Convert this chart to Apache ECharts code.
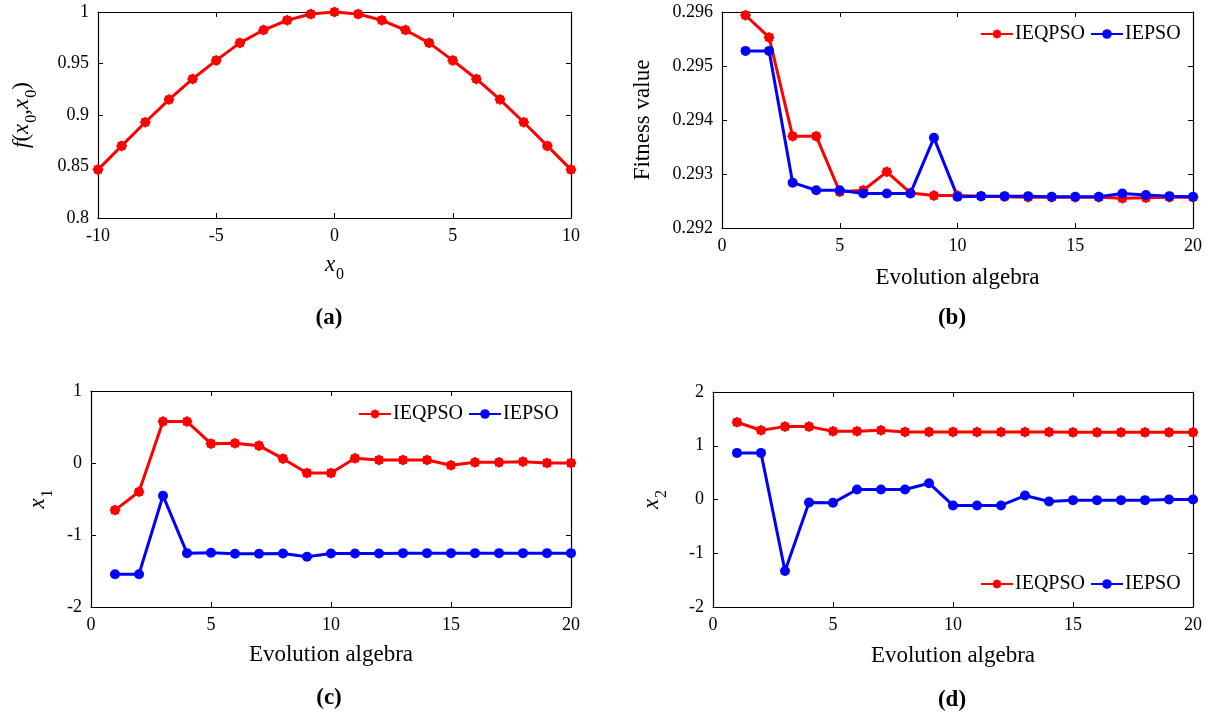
<!DOCTYPE html>
<html>
<head>
<meta charset="utf-8">
<script src="https://cdn.jsdelivr.net/npm/echarts@6/dist/echarts.min.js"></script>
<style>html,body{margin:0;padding:0;background:#fff;}#c{width:1213px;height:717px;}</style>
</head>
<body>
<div id="c"></div>
<script>
// ---- data ----
const x0Values = [-10,-9,-8,-7,-6,-5,-4,-3,-2,-1,0,1,2,3,4,5,6,7,8,9,10];
const fValues = [0.847,0.870,0.893,0.915,0.935,0.953,0.970,0.9825,0.992,0.998,1.0,0.998,0.992,0.9825,0.970,0.953,0.935,0.915,0.893,0.870,0.847];
const generations = [1,2,3,4,5,6,7,8,9,10,11,12,13,14,15,16,17,18,19,20];
const fitnessIEQPSO = [0.29594,0.29553,0.29370,0.29370,0.29267,0.29270,0.29304,0.29265,0.29260,0.29260,0.29259,0.29258,0.29257,0.29257,0.29257,0.29257,0.29255,0.29256,0.29257,0.29257];
const fitnessIEPSO = [0.29528,0.29528,0.29284,0.29270,0.29270,0.29264,0.29264,0.29264,0.29367,0.29258,0.29259,0.29259,0.29259,0.29258,0.29258,0.29258,0.29264,0.29261,0.29259,0.29258];
const x1IEQPSO = [-0.654,-0.40,0.576,0.576,0.269,0.274,0.241,0.06,-0.139,-0.139,0.065,0.042,0.042,0.042,-0.032,0.009,0.009,0.019,0,0];
const x1IEPSO = [-1.544,-1.544,-0.454,-1.252,-1.247,-1.261,-1.261,-1.256,-1.303,-1.256,-1.256,-1.256,-1.252,-1.252,-1.252,-1.252,-1.252,-1.252,-1.252,-1.252];
const x2IEQPSO = [1.437,1.288,1.356,1.356,1.269,1.269,1.288,1.257,1.257,1.257,1.255,1.255,1.255,1.255,1.25,1.25,1.25,1.25,1.25,1.25];
const x2IEPSO = [0.867,0.867,-1.331,-0.056,-0.062,0.186,0.186,0.186,0.303,-0.111,-0.111,-0.111,0.074,-0.037,-0.012,-0.012,-0.012,-0.012,0,0];
const seriesNames = ['IEQPSO','IEPSO'];
const panelLabels = ['(a)','(b)','(c)','(d)'];

// ---- styles ----
const FONT = 'Liberation Serif';
const RED = '#ff0000', BLUE = '#0000ff';
const STAR = 'path://M20 10 L17.85 13.25 L17.07 17.07 L13.25 17.85 L10 20 L6.75 17.85 L2.93 17.07 L2.15 13.25 L0 10 L2.15 6.75 L2.93 2.93 L6.75 2.15 L10 0 L13.25 2.15 L17.07 2.93 L17.85 6.75 Z';
const richSub = {
  i: {fontFamily: FONT, fontStyle: 'italic', fontSize: 23, lineHeight: 23, padding: [0,0,10,0], color: '#000'},
  n: {fontFamily: FONT, fontSize: 23, lineHeight: 23, padding: [0,0,10,0], color: '#000'},
  s: {fontFamily: FONT, fontSize: 16, lineHeight: 16, padding: [10,0,0,1], color: '#000'}
};
const axLine = {show: true, onZero: false, lineStyle: {color: '#000', width: 1.2}};
const tickIn = {show: true, inside: true, length: 5, lineStyle: {color: '#000', width: 1}};
const lbl = {color: '#000', fontFamily: FONT, fontSize: 18};

function zip(xs, ys) { return xs.map((x, i) => [x, ys[i]]); }

const grids = [
  {left: 98, top: 12, width: 473, height: 206},
  {left: 722, top: 12, width: 471, height: 216},
  {left: 91, top: 391, width: 480, height: 216},
  {left: 713, top: 392, width: 480, height: 215}
];

const xRanges = [[-10,10,5],[0,20,5],[0,20,5],[0,20,5]];
const yRanges = [[0.8,1,0.05],[0.292,0.296,0.001],[-2,1,1],[-2,2,1]];
const xNames = ['{i|x}{s|0}','Evolution algebra','Evolution algebra','Evolution algebra'];
const xNameGaps = [40, 38, 36, 37];
const yNames = ['{i|f}{n|(}{i|x}{s|0}{n|,}{i|x}{s|0}{n|)}','Fitness value','{i|x}{s|1}','{i|x}{s|2}'];
const yNameGaps = [60, 68, 37, 45];

const xAxis = [], yAxis = [];
grids.forEach((g, k) => {
  const [xmin, xmax, xi] = xRanges[k];
  const [ymin, ymax, yi] = yRanges[k];
  xAxis.push({
    type: 'value', gridIndex: k, min: xmin, max: xmax, interval: xi, position: 'bottom',
    axisLine: axLine, axisTick: tickIn, splitLine: {show: false},
    axisLabel: Object.assign({margin: 9}, lbl),
    name: xNames[k], nameLocation: 'middle', nameGap: xNameGaps[k],
    nameTextStyle: {color: '#000', fontFamily: FONT, fontSize: 23, rich: richSub}
  });
  xAxis.push({
    type: 'value', gridIndex: k, min: xmin, max: xmax, interval: xi, position: 'top',
    axisLine: axLine, axisTick: tickIn, splitLine: {show: false}, axisLabel: {show: false}
  });
  yAxis.push({
    type: 'value', gridIndex: k, min: ymin, max: ymax, interval: yi, position: 'left',
    axisLine: axLine, axisTick: tickIn, splitLine: {show: false},
    axisLabel: Object.assign({margin: 9, formatter: k === 1 ? (v => v.toFixed(3)) : (v => String(+v.toFixed(3)))}, lbl),
    name: yNames[k], nameLocation: 'middle', nameGap: yNameGaps[k], nameRotate: 90,
    nameTextStyle: {color: '#000', fontFamily: FONT, fontSize: 23, rich: richSub}
  });
  yAxis.push({
    type: 'value', gridIndex: k, min: ymin, max: ymax, interval: yi, position: 'right',
    axisLine: axLine, axisTick: tickIn, splitLine: {show: false}, axisLabel: {show: false}
  });
});

function lineSeries(name, color, k, data) {
  const red = color === RED;
  return {
    name: name, type: 'line', xAxisIndex: 2 * k, yAxisIndex: 2 * k, data: data,
    symbol: red ? STAR : 'circle', symbolSize: red ? 11 : 10, showSymbol: true,
    lineStyle: {color: color, width: 3}, itemStyle: {color: color},
    emphasis: {disabled: true}, animation: false
  };
}

const series = [
  lineSeries('f', RED, 0, zip(x0Values, fValues)),
  lineSeries(seriesNames[0], RED, 1, zip(generations, fitnessIEQPSO)),
  lineSeries(seriesNames[1], BLUE, 1, zip(generations, fitnessIEPSO)),
  lineSeries(seriesNames[0], RED, 2, zip(generations, x1IEQPSO)),
  lineSeries(seriesNames[1], BLUE, 2, zip(generations, x1IEPSO)),
  lineSeries(seriesNames[0], RED, 3, zip(generations, x2IEQPSO)),
  lineSeries(seriesNames[1], BLUE, 3, zip(generations, x2IEPSO))
];

function legendAt(left, top) {
  return {
    data: seriesNames, left: left, top: top, orient: 'horizontal', padding: 0,
    itemWidth: 32, itemHeight: 12, itemGap: 5, selectedMode: false,
    textStyle: {color: '#000', fontFamily: FONT, fontSize: 20, padding: [0,0,0,-3]}
  };
}

const labelPos = [[329,318],[952,318],[329,698],[952,700]];
const graphic = panelLabels.map((t, k) => ({
  type: 'text', x: labelPos[k][0], y: labelPos[k][1],
  style: {text: t, font: 'bold 23px "' + FONT + '"', fill: '#000', align: 'center', verticalAlign: 'middle'}
}));

const chart = echarts.init(document.getElementById('c'), null, {renderer: 'canvas'});
chart.setOption({
  backgroundColor: '#fff',
  animation: false,
  grid: grids,
  xAxis: xAxis,
  yAxis: yAxis,
  legend: [legendAt(980, 24), legendAt(358, 404), legendAt(980, 574)],
  series: series,
  graphic: graphic
});
</script>
</body>
</html>
